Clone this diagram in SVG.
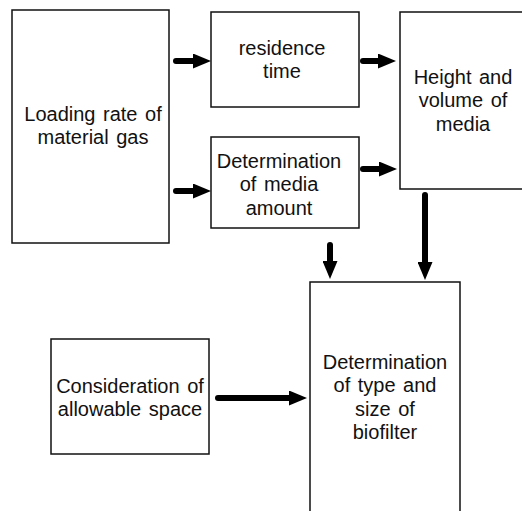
<svg xmlns="http://www.w3.org/2000/svg" width="522" height="511" viewBox="0 0 522 511">
<defs>
<style>
.box{fill:#fff;stroke:#111;stroke-width:1.5}
.t{font-family:"Liberation Sans",Arial,sans-serif;font-size:20px;fill:#111;text-anchor:middle;word-spacing:2px}
.arr{stroke:#000;stroke-width:6;stroke-linecap:round;fill:none;marker-end:url(#head)}
</style>
<marker id="head" markerUnits="userSpaceOnUse" markerWidth="18" markerHeight="15" refX="0" refY="7.5" orient="auto" viewBox="0 0 18 15">
<path d="M0,0 L18,7.5 L0,15 z" fill="#000"/>
</marker>
</defs>
<rect width="522" height="511" fill="#fff"/>
<g id="loading">
<rect class="box" x="12" y="10" width="157" height="233"/>
<text class="t" x="93" y="121">Loading rate of</text>
<text class="t" x="93" y="144">material gas</text>
</g>
<g id="residence">
<rect class="box" x="211" y="12" width="148" height="95"/>
<text class="t" x="282" y="55">residence</text>
<text class="t" x="282" y="78">time</text>
</g>
<g id="media-amount">
<rect class="box" x="211" y="137" width="148" height="91"/>
<text class="t" x="279" y="168">Determination</text>
<text class="t" x="279" y="191">of media</text>
<text class="t" x="279" y="215">amount</text>
</g>
<g id="height-volume">
<rect class="box" x="400" y="12" width="130" height="177"/>
<text class="t" x="463" y="84">Height and</text>
<text class="t" x="463" y="107">volume of</text>
<text class="t" x="463" y="131">media</text>
</g>
<g id="space">
<rect class="box" x="51" y="339" width="158" height="115"/>
<text class="t" x="130" y="393">Consideration of</text>
<text class="t" x="130" y="416">allowable space</text>
</g>
<g id="biofilter">
<rect class="box" x="310" y="282" width="150" height="240"/>
<text class="t" x="385" y="369">Determination</text>
<text class="t" x="385" y="392">of type and</text>
<text class="t" x="385" y="416">size of</text>
<text class="t" x="385" y="439">biofilter</text>
</g>
<g id="connectors">
<line class="arr" x1="176" y1="61" x2="193" y2="61"/>
<line class="arr" x1="176" y1="191" x2="193" y2="191"/>
<line class="arr" x1="363" y1="61" x2="378" y2="61"/>
<line class="arr" x1="363" y1="169" x2="379" y2="169"/>
<line class="arr" x1="425" y1="195" x2="425" y2="262"/>
<line class="arr" x1="330" y1="245" x2="330" y2="261"/>
<line class="arr" x1="218" y1="398" x2="289" y2="398"/>
</g>
</svg>
